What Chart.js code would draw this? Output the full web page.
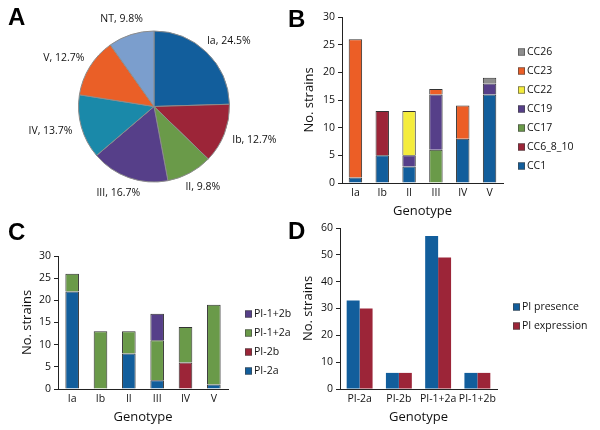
<!DOCTYPE html>
<html>
<head>
<meta charset="utf-8">
<script src="https://cdn.jsdelivr.net/npm/chart.js"></script>
<style>
  body { margin: 0; background: #fff; }
  #wrap { position: relative; width: 600px; height: 430px; overflow: hidden; }
  canvas { position: absolute; }
  .tag { position: absolute; font: bold 24px "Liberation Sans", Arial, sans-serif; line-height: 24px; color: #000; }
</style>
</head>
<body>
<div id="wrap">
  <canvas id="pie" width="300" height="215" style="left:0;top:0"></canvas>
  <canvas id="cc" width="300" height="220" style="left:300px;top:0"></canvas>
  <canvas id="pi" width="300" height="215" style="left:0;top:215px"></canvas>
  <canvas id="pe" width="300" height="215" style="left:300px;top:215px"></canvas>
  <div class="tag" style="left:8px;top:5px">A</div>
  <div class="tag" style="left:288px;top:7px">B</div>
  <div class="tag" style="left:8px;top:220px">C</div>
  <div class="tag" style="left:288px;top:219px">D</div>
</div>
<script>
// panel A: share of each genotype (%)
var pieGenotypes = ["Ia", "Ib", "II", "III", "IV", "V", "NT"];
var pieShares = [24.5, 12.7, 9.8, 16.7, 13.7, 12.7, 9.8];
var pieColors = ["#125e9c", "#9c2538", "#6a9a49", "#563f89", "#1a89a9", "#ea5f27", "#7b9ecd"];

// panels B and C: genotype on the x axis
var genotypes = ["Ia", "Ib", "II", "III", "IV", "V"];

// panel B: clonal complexes, bottom of stack first
var ccNames = ["CC1", "CC6_8_10", "CC17", "CC19", "CC22", "CC23", "CC26"];
var cc1 = [1, 5, 3, 0, 8, 16];
var cc6_8_10 = [0, 8, 0, 0, 0, 0];
var cc17 = [0, 0, 0, 6, 0, 0];
var cc19 = [0, 0, 2, 10, 0, 2];
var cc22 = [0, 0, 8, 0, 0, 0];
var cc23 = [25, 0, 0, 1, 6, 0];
var cc26 = [0, 0, 0, 0, 0, 1];
var ccColors = ["#125e9c", "#9c2538", "#6a9a49", "#563f89", "#f4ec3c", "#ec5e26", "#8e8e8e"];

// panel C: pilus islands per genotype
var piNames = ["PI-2a", "PI-2b", "PI-1+2a", "PI-1+2b"];
var pi2a = [22, 0, 8, 2, 0, 1];
var pi2b = [0, 0, 0, 0, 6, 0];
var pi12a = [4, 13, 5, 9, 8, 18];
var pi12b = [0, 0, 0, 6, 0, 0];
var piColors = ["#125e9c", "#9c2538", "#6a9a49", "#563f89"];

// panel D: presence vs expression
var piPresence = [33, 6, 57, 6];
var piExpression = [30, 6, 49, 6];

Chart.defaults.font.family = '"Open Sans", sans-serif';
Chart.defaults.color = "#111";
Chart.defaults.animation = false;
Chart.defaults.plugins.legend.display = false;
Chart.defaults.plugins.tooltip.enabled = false;

var tickFont = { size: 10.5 };
var titleFont = { size: 13 };

// labels round the pie, "Ia, 24.5%"
var pieLabels = {
  id: "pieLabels",
  afterDatasetsDraw(chart) {
    var ctx = chart.ctx;
    var meta = chart.getDatasetMeta(0);
    ctx.save();
    ctx.font = '10.5px "Open Sans"';
    ctx.fillStyle = "#111";
    ctx.textAlign = "center";
    ctx.textBaseline = "middle";
    meta.data.forEach(function (arc, i) {
      var a = (arc.startAngle + arc.endAngle) / 2;
      var txt = pieGenotypes[i] + ", " + pieShares[i].toFixed(1) + "%";
      var w = ctx.measureText(txt).width;
      var d = arc.outerRadius + 10;
      var x = arc.x + Math.cos(a) * d + Math.cos(a) * w / 2;
      var y = arc.y + Math.sin(a) * d + Math.sin(a) * 6;
      ctx.fillText(txt, x, y);
    });
    ctx.restore();
  }
};

// small square legend to the right of the plot
var sideLegend = {
  id: "sideLegend",
  afterDraw(chart, args, o) {
    var ctx = chart.ctx;
    var sets = chart.data.datasets.slice();
    if (o.reverse) sets.reverse();
    ctx.save();
    ctx.font = '10.5px "Open Sans"';
    ctx.textBaseline = "middle";
    sets.forEach(function (ds, i) {
      var y = o.y + i * o.step;
      ctx.fillStyle = ds.backgroundColor;
      ctx.fillRect(o.x, y - 3.5, 7, 7);
      ctx.strokeStyle = "#444";
      ctx.lineWidth = 0.6;
      ctx.strokeRect(o.x + 0.3, y - 3.2, 6.4, 6.4);
      ctx.fillStyle = "#111";
      ctx.fillText(ds.label, o.x + 9, y);
    });
    ctx.restore();
  }
};

function yAxis(max, step, width) {
  return {
    min: 0,
    max: max,
    stacked: true,
    ticks: { stepSize: step, padding: 3, font: tickFont },
    grid: { drawOnChartArea: false, drawTicks: true, tickLength: 4, color: "#222" },
    border: { display: true, color: "#222", width: 1 },
    title: { display: true, text: "No. strains", font: titleFont, padding: 0 },
    afterFit: function (s) { s.width = width; }
  };
}

function xAxis(stacked) {
  return {
    stacked: stacked,
    grid: { display: false, drawTicks: false },
    border: { display: true, color: "#222", width: 1 },
    ticks: { padding: 4, font: tickFont, maxRotation: 0, minRotation: 0, autoSkip: false },
    title: { display: true, text: "Genotype", font: titleFont, padding: 0 },
    afterFit: function (s) { s.height = 36; }
  };
}

new Chart(document.getElementById("pie"), {
  type: "pie",
  data: {
    labels: pieGenotypes,
    datasets: [{
      data: pieShares,
      backgroundColor: pieColors,
      borderColor: "#8c8c8c",
      borderWidth: 1
    }]
  },
  options: {
    responsive: false,
    layout: { padding: { left: 78, right: 70, top: 30, bottom: 32 } }
  },
  plugins: [pieLabels]
});

var ccData = [cc1, cc6_8_10, cc17, cc19, cc22, cc23, cc26];
new Chart(document.getElementById("cc"), {
  type: "bar",
  data: {
    labels: genotypes,
    datasets: ccNames.map(function (name, i) {
      return {
        label: name,
        data: ccData[i],
        backgroundColor: ccColors[i],
        borderColor: "#333",
        borderWidth: 1,
        barPercentage: 0.5,
        categoryPercentage: 1
      };
    })
  },
  options: {
    responsive: false,
    layout: { padding: { left: 1, right: 97, top: 17, bottom: 1 } },
    scales: { x: xAxis(true), y: yAxis(30, 5, 41) },
    plugins: { sideLegend: { x: 218, y: 52, step: 19, reverse: true } }
  },
  plugins: [sideLegend]
});

var piData = [pi2a, pi2b, pi12a, pi12b];
new Chart(document.getElementById("pi"), {
  type: "bar",
  data: {
    labels: genotypes,
    datasets: piNames.map(function (name, i) {
      return {
        label: name,
        data: piData[i],
        backgroundColor: piColors[i],
        borderColor: "#333",
        borderWidth: 1,
        barPercentage: 0.48,
        categoryPercentage: 1
      };
    })
  },
  options: {
    responsive: false,
    layout: { padding: { left: 19, right: 72, top: 41, bottom: 5 } },
    scales: { x: xAxis(true), y: yAxis(30, 5, 39) },
    plugins: { sideLegend: { x: 245, y: 99, step: 19, reverse: true } }
  },
  plugins: [sideLegend]
});

var yD = yAxis(60, 10, 40);
yD.stacked = false;
new Chart(document.getElementById("pe"), {
  type: "bar",
  data: {
    labels: piNames,
    datasets: [{
      label: "PI presence",
      data: piPresence,
      backgroundColor: "#125e9c",
      borderWidth: 0,
      barPercentage: 1,
      categoryPercentage: 0.66
    }, {
      label: "PI expression",
      data: piExpression,
      backgroundColor: "#9c2538",
      borderWidth: 0,
      barPercentage: 1,
      categoryPercentage: 0.66
    }]
  },
  options: {
    responsive: false,
    layout: { padding: { left: 0, right: 103, top: 13, bottom: 5 } },
    scales: { x: xAxis(false), y: yD },
    plugins: { sideLegend: { x: 213, y: 92, step: 19, reverse: false } }
  },
  plugins: [sideLegend]
});
</script>
</body>
</html>
